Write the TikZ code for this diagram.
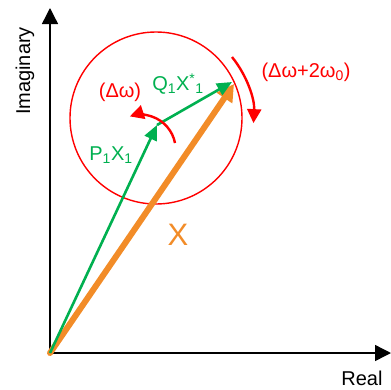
\documentclass[tikz,border=0pt]{standalone}
\usepackage{fontspec}
\setmainfont{Liberation Sans}
\usetikzlibrary{arrows.meta}
\definecolor{vgreen}{RGB}{0,176,80}
\definecolor{vorange}{RGB}{242,140,40}
\definecolor{vred}{RGB}{255,0,0}
\begin{document}
\begin{tikzpicture}[x=1pt,y=-1pt,
  axis/.style={black,line width=1.4pt,-{Triangle[length=16pt,width=16pt]}},
  gvec/.style={vgreen,line width=2.6pt,-{Triangle[length=15pt,width=13pt]}},
  ovec/.style={vorange,line width=6pt,line cap=round,-{Triangle[length=17pt,width=18pt]}},
  rarc/.style={vred,line width=2.4pt,-{Triangle[length=14pt,width=14pt]}},
  lbl/.style={inner sep=0pt,font=\fontsize{20}{23}\selectfont},
]
\useasboundingbox (0,0) rectangle (391,389);
\coordinate (O) at (50,353);
\coordinate (ytip) at (50,8);
\coordinate (xtip) at (391,353);
\coordinate (P) at (157,125);
\coordinate (T) at (232,82);
\coordinate (To) at (234,84);
\draw[axis] (O) -- (ytip);
\draw[axis] (O) -- (xtip);
\node[lbl,rotate=90] (imag) at (25,71) {Imaginary};
\node[lbl] (real) at (362,378) {Real};
\node[draw=vred,line width=1.4pt,circle,minimum size=172pt,inner sep=0pt] (circ) at (156,118) {};
\draw[ovec] (O) -- (To);
\draw[gvec] (O) -- (P);
\draw[gvec] (P) -- (T);
\draw[rarc] (175,143) arc[start angle=-11,end angle=-108,radius=35];
\draw[rarc] (232,57) arc[start angle=-39,end angle=3,radius=97];
\node[lbl,text=vred] (dw) at (120,92) {(Δω)};
\node[lbl,text=vred] (dw2) at (306,72) {(Δω+2ω\textsubscript{0})};
\node[lbl,text=vgreen] (q) at (178,84) {Q\textsubscript{1}X\textsuperscript{*}\textsubscript{1}};
\node[lbl,text=vgreen] (p) at (111,155) {P\textsubscript{1}X\textsubscript{1}};
\node[lbl,text=vorange,font=\fontsize{31}{35}\selectfont] (xl) at (178,235) {X};
\end{tikzpicture}
\end{document}
